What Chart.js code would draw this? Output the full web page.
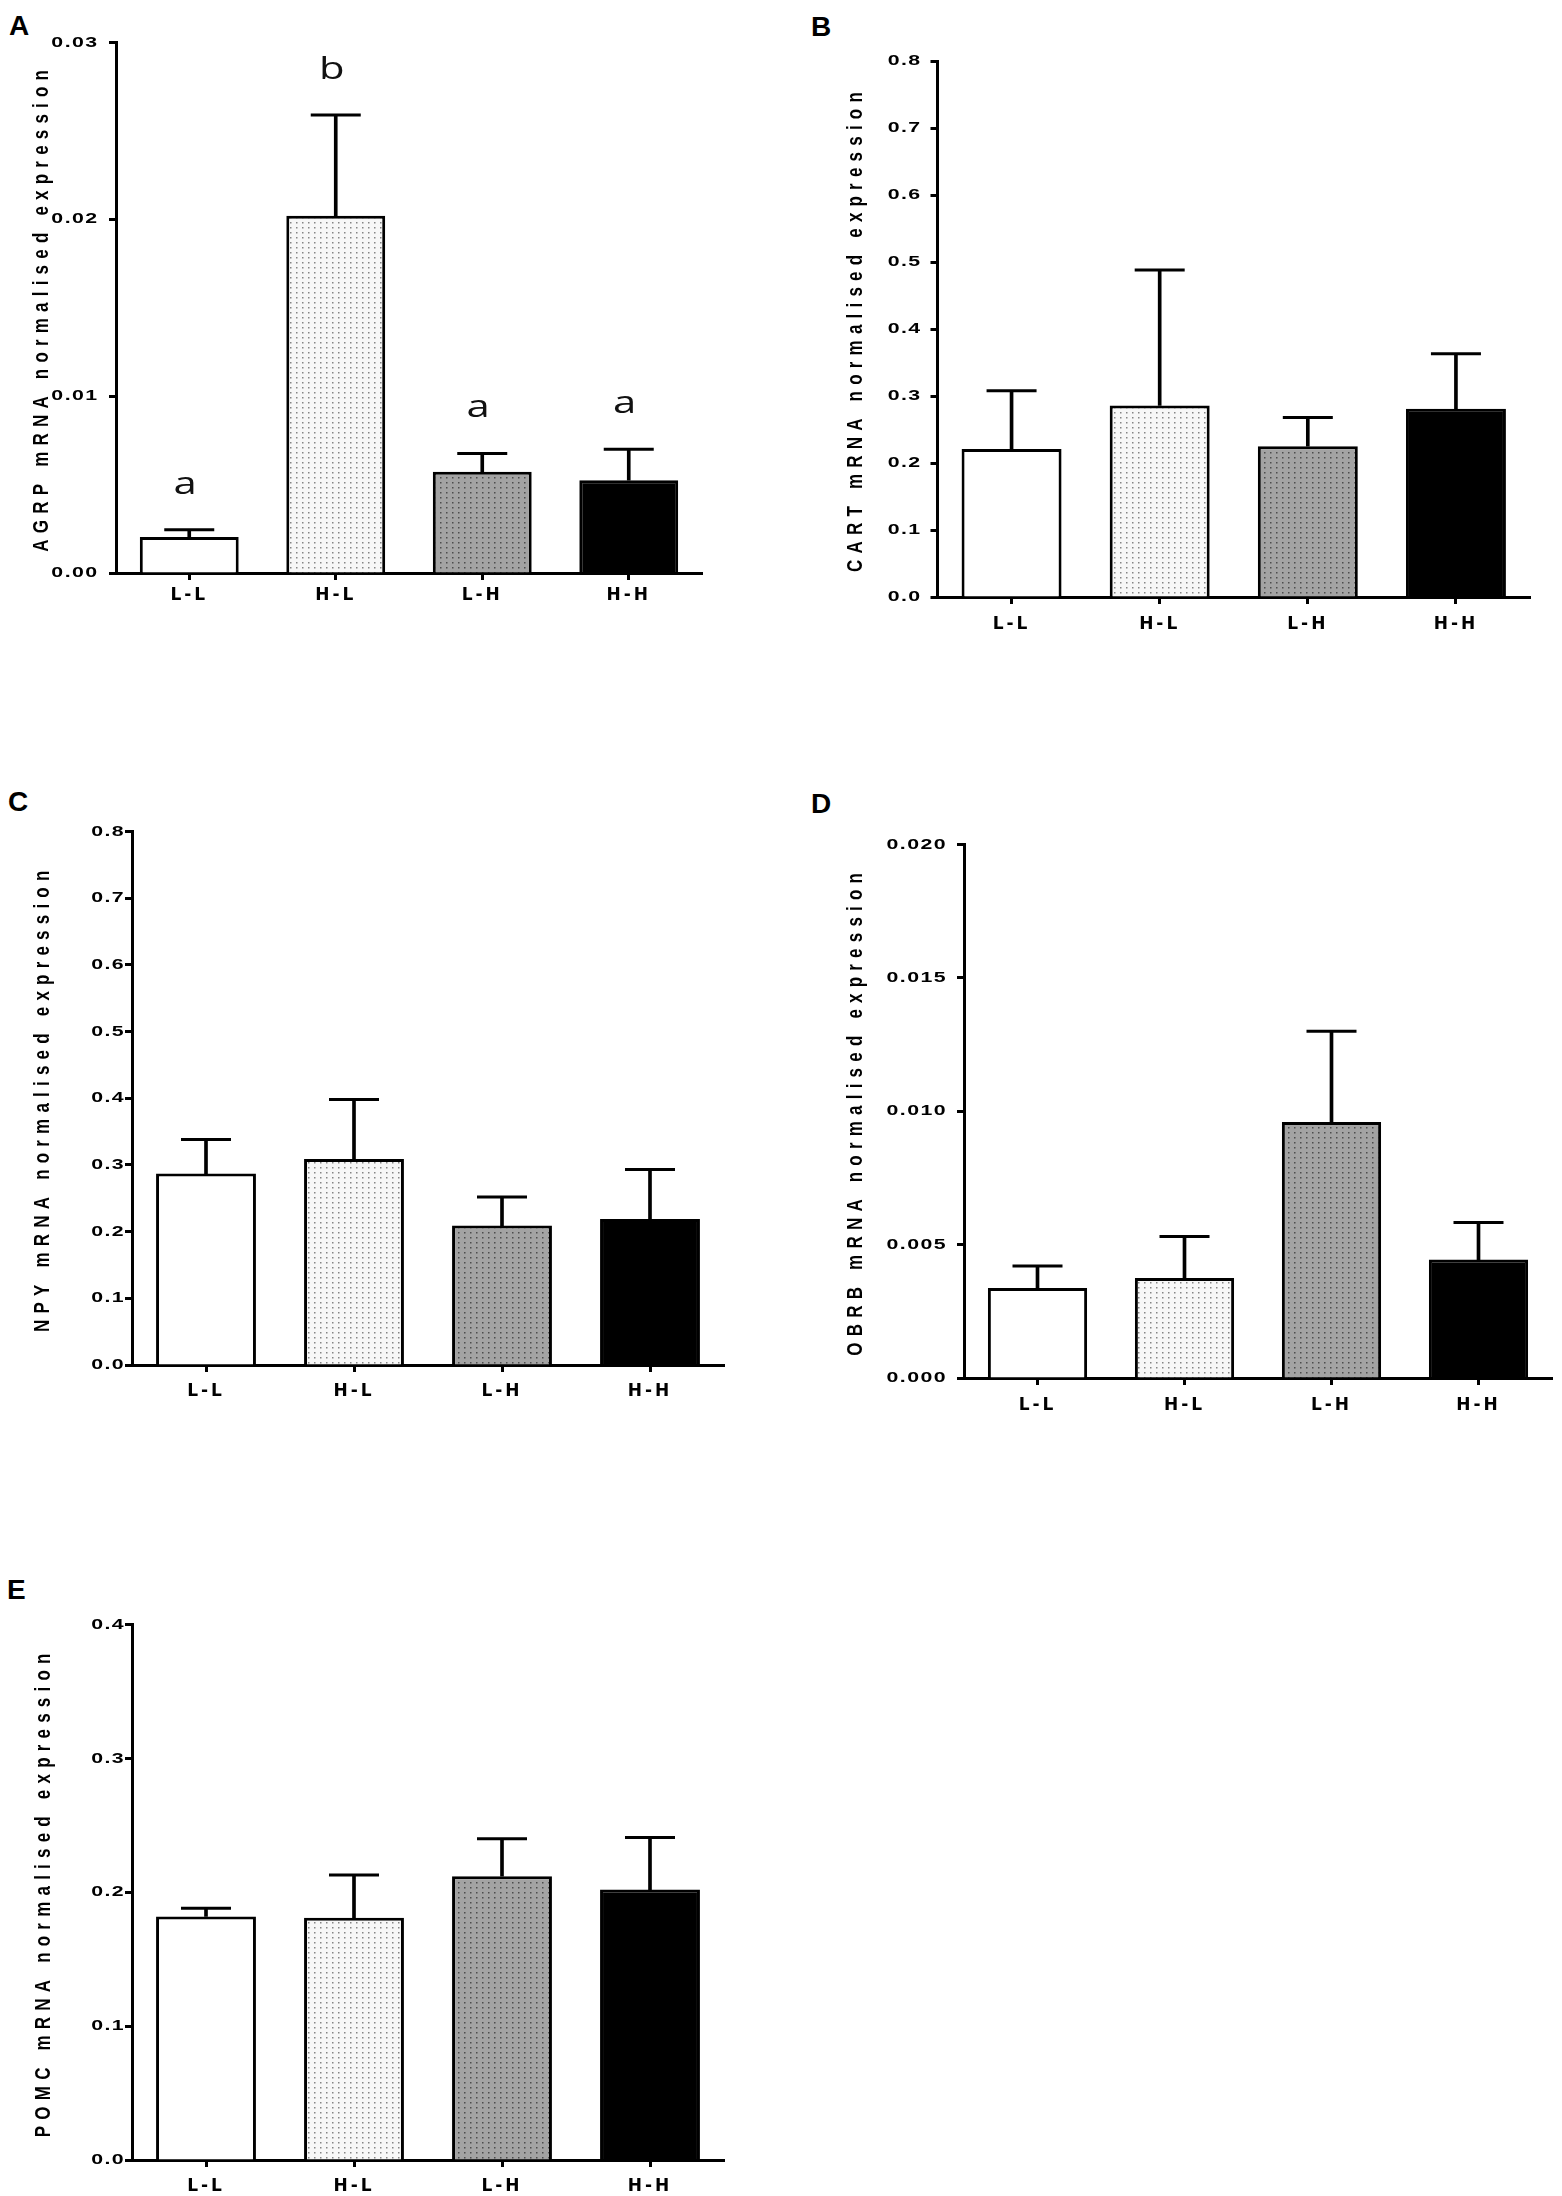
<!DOCTYPE html>
<html><head><meta charset="utf-8">
<script src="https://cdn.jsdelivr.net/npm/chart.js@4.4.1/dist/chart.umd.min.js"></script>
<style>
html,body{margin:0;padding:0;background:#fff;overflow:hidden;}
body{width:1562px;height:2196px;position:relative;}
.lbl{position:absolute;font:bold 28px "Liberation Sans",Arial,sans-serif;color:#000;line-height:1;}
canvas{position:absolute;}
</style></head><body>
<div class="lbl" style="left:9px;top:12px">A</div>
<div class="lbl" style="left:811px;top:13px">B</div>
<div class="lbl" style="left:8px;top:788px">C</div>
<div class="lbl" style="left:811px;top:790px">D</div>
<div class="lbl" style="left:7px;top:1576px">E</div>
<script>
// ---------- data ----------
const groups = ['L-L', 'H-L', 'L-H', 'H-H'];

const agrpMean = [0.00204, 0.0202, 0.00572, 0.00525];
const agrpErr  = [0.00041, 0.0057, 0.00104, 0.00175];
const agrpLetters = ['a', 'b', 'a', 'a'];

const cartMean = [0.221, 0.286, 0.225, 0.281];
const cartErr  = [0.087, 0.202, 0.043, 0.082];

const npyMean = [0.287, 0.309, 0.209, 0.219];
const npyErr  = [0.051, 0.089, 0.043, 0.074];

const obrbMean = [0.00337, 0.00375, 0.0096, 0.00444];
const obrbErr  = [0.00083, 0.00155, 0.0034, 0.00139];

const pomcMean = [0.182, 0.181, 0.212, 0.202];
const pomcErr  = [0.006, 0.032, 0.028, 0.039];

const ticksAGRP = ['0.00', '0.01', '0.02', '0.03'];
const ticksCART = ['0.0', '0.1', '0.2', '0.3', '0.4', '0.5', '0.6', '0.7', '0.8'];
const ticksNPY  = ['0.0', '0.1', '0.2', '0.3', '0.4', '0.5', '0.6', '0.7', '0.8'];
const ticksOBRB = ['0.000', '0.005', '0.010', '0.015', '0.020'];
const ticksPOMC = ['0.0', '0.1', '0.2', '0.3', '0.4'];

const titleAGRP = 'AGRP mRNA normalised expression';
const titleCART = 'CART mRNA normalised expression';
const titleNPY  = 'NPY mRNA normalised expression';
const titleOBRB = 'OBRB mRNA normalised expression';
const titlePOMC = 'POMC mRNA normalised expression';

// ---------- styling ----------
const ARIAL = '"Liberation Sans", Arial, sans-serif';
const WIDE = '"DejaVu Sans", "Liberation Sans", Arial, sans-serif';

function dotPattern(base, dot) {
  const c = document.createElement('canvas');
  c.width = 6; c.height = 5;
  const g = c.getContext('2d');
  g.fillStyle = base; g.fillRect(0, 0, 6, 5);
  g.fillStyle = dot; g.fillRect(2, 2, 1.5, 1.5);
  return g.createPattern(c, 'repeat');
}
const fills = ['#ffffff', dotPattern('#f7f7f7', '#858585'), dotPattern('#a3a3a3', '#4d4d4d'), '#000000'];

// letter-spacing and horizontal stretch (the source figure is stretched sideways)
function styleText(scale, o) {
  if (scale._styled) return;
  scale._styled = true;
  const dl = scale.drawLabels.bind(scale);
  const dt = scale.drawTitle.bind(scale);
  scale.drawLabels = function (a) {
    const c = this.ctx; c.save(); c.letterSpacing = o.labelSp;
    if (o.labelStretch && o.labelStretch !== 1) {
      const ax = this.right - this.options.grid.tickLength - this.options.ticks.padding;
      c.translate(ax, 0); c.scale(o.labelStretch, 1); c.translate(-ax, 0);
    }
    dl(a); c.restore();
  };
  scale.drawTitle = function () {
    const c = this.ctx; c.save(); c.letterSpacing = o.titleSp;
    if (o.titleStretch && o.titleStretch !== 1) {
      const tx = o.titleX;
      c.translate(tx, 0); c.scale(o.titleStretch, 1); c.translate(-tx, 0);
    }
    dt(); c.restore();
  };
}

const sigPlugin = {
  id: 'sig',
  afterDatasetsDraw(chart, args, opts) {
    if (!opts || !opts.letters) return;
    const ctx = chart.ctx, xs = chart.scales.x, ys = chart.scales.y;
    ctx.save();
    ctx.font = '31px "Open Sans", "Liberation Sans", sans-serif';
    ctx.fillStyle = '#111';
    ctx.textAlign = 'center';
    ctx.textBaseline = 'alphabetic';
    opts.letters.forEach((t, i) => {
      ctx.save();
      ctx.translate(xs.getPixelForValue(i) - 4, ys.getPixelForValue(opts.tops[i]) - opts.gap);
      ctx.scale(1.35, 1);
      ctx.fillText(t, 0, 0);
      ctx.restore();
    });
    ctx.restore();
  }
};

const TITLE_SIZE = 17;
function panel(p) {
  const cv = document.createElement('canvas');
  cv.width = p.w; cv.height = p.h;
  cv.style.left = p.x + 'px'; cv.style.top = p.y + 'px';
  cv.style.width = p.w + 'px'; cv.style.height = p.h + 'px';
  document.body.appendChild(cv);
  const tops = p.mean.map((m, i) => m + p.err[i]);
  const axisGrid = { display: true, drawOnChartArea: false, drawTicks: true, tickLength: 7, tickWidth: 3, tickColor: '#000', color: '#000', offset: false };
  const axisBorder = { display: true, color: '#000', width: 3 };
  const titlePad = p.titleX - TITLE_SIZE * 1.2 / 2;
  new Chart(cv, {
    data: {
      labels: groups,
      datasets: [
        { type: 'line', data: tops, showLine: false, pointStyle: 'line', pointRadius: 25, pointHoverRadius: 25,
          pointBorderWidth: 3, borderColor: '#000', borderWidth: 3, order: 1, clip: false },
        { type: 'bar', data: p.mean.map((m, i) => [m, tops[i]]), backgroundColor: '#000', borderWidth: 0,
          barThickness: 3, grouped: false, order: 2 },
        { type: 'bar', data: p.mean, backgroundColor: fills, borderColor: '#000', borderWidth: 3,
          barPercentage: 0.675, categoryPercentage: 1, grouped: false, order: 3 }
      ]
    },
    options: {
      responsive: false, animation: false, events: [],
      layout: { padding: { left: 0, top: p.padTop, right: p.padRight, bottom: 0 } },
      plugins: { legend: { display: false }, tooltip: { enabled: false },
                 sig: { letters: p.letters, tops: tops, gap: 36 } },
      scales: {
        x: {
          type: 'category', offset: true,
          grid: axisGrid, border: axisBorder,
          ticks: { color: '#000', font: { family: WIDE, size: 17, weight: 'bold' }, padding: p.xPad, maxRotation: 0, autoSkip: false },
          afterFit: s => { s.height = p.xH; styleText(s, { labelSp: '3px', titleSp: '0px' }); }
        },
        y: {
          type: 'linear', min: 0, max: p.max,
          grid: axisGrid, border: axisBorder,
          ticks: { stepSize: p.step, color: '#000', font: { family: ARIAL, size: 15, weight: 'bold' }, padding: p.yPad,
                   callback: (v, i) => (p.ticks[i] !== undefined ? p.ticks[i] : v) },
          title: { display: true, text: p.title, color: '#000', font: { family: ARIAL, size: TITLE_SIZE, weight: 'bold' },
                   padding: { top: titlePad, bottom: 0 } },
          afterFit: s => { s.width = p.yW; styleText(s, { labelSp: '1px', labelStretch: 1.42, titleSp: '6.2px', titleStretch: 1.35, titleX: p.titleX }); }
        }
      }
    },
    plugins: [sigPlugin]
  });
}

panel({ x: 0,   y: 0,    w: 730, h: 640, padTop: 42.5, padRight: 28, yW: 116,   xH: 67, titleX: 42, yPad: 10.5, xPad: 5.8,
        max: 0.03, step: 0.01, mean: agrpMean, err: agrpErr, ticks: ticksAGRP, title: titleAGRP, letters: agrpLetters });
panel({ x: 800, y: 0,    w: 762, h: 680, padTop: 61,   padRight: 32, yW: 137.5, xH: 83, titleX: 56, yPad: 9,    xPad: 10.8,
        max: 0.8, step: 0.1, mean: cartMean, err: cartErr, ticks: ticksCART, title: titleCART });
panel({ x: 0,   y: 760,  w: 760, h: 680, padTop: 71.5, padRight: 36, yW: 132,   xH: 75, titleX: 43, yPad: 0,    xPad: 9.8,
        max: 0.8, step: 0.1, mean: npyMean, err: npyErr, ticks: ticksNPY, title: titleNPY });
panel({ x: 800, y: 760,  w: 780, h: 680, padTop: 84.5, padRight: 28, yW: 164,   xH: 62, titleX: 56, yPad: 10,   xPad: 10.8,
        max: 0.02, step: 0.005, mean: obrbMean, err: obrbErr, ticks: ticksOBRB, title: titleOBRB });
panel({ x: 0,   y: 1560, w: 760, h: 636, padTop: 64.6, padRight: 36, yW: 132,   xH: 36, titleX: 44, yPad: 0,    xPad: 9.8,
        max: 0.4, step: 0.1, mean: pomcMean, err: pomcErr, ticks: ticksPOMC, title: titlePOMC });
</script>
</body></html>
